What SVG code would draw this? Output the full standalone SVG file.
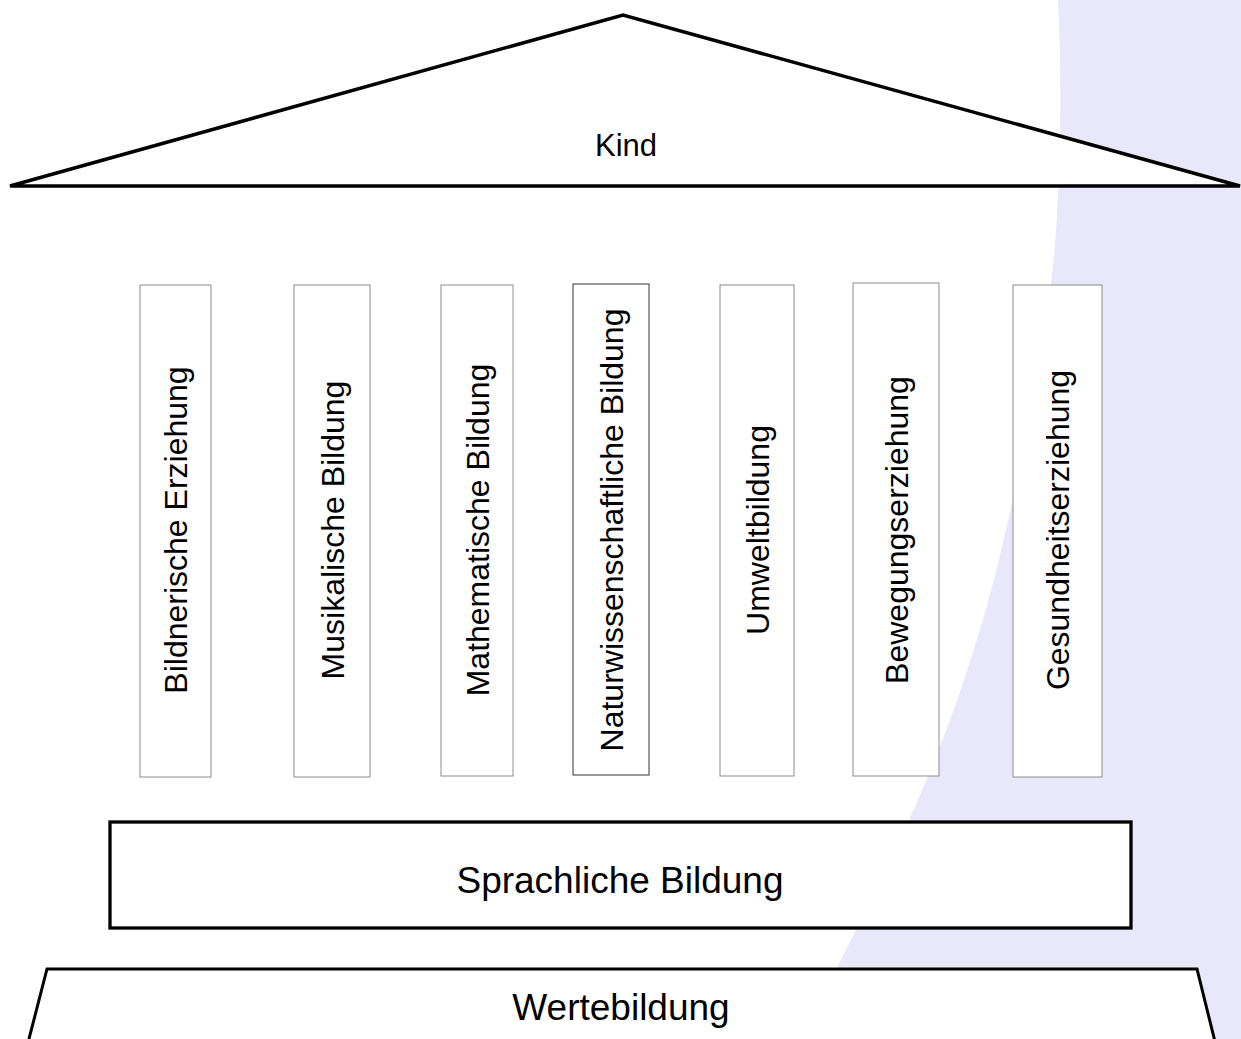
<svg xmlns="http://www.w3.org/2000/svg" width="1241" height="1039" viewBox="0 0 1241 1039">
<style>
  text { font-family: "Liberation Sans", Arial, sans-serif; fill: #000; text-anchor: middle; }
  .roof, .base, .found { fill: #fff; stroke: #000; stroke-width: 3; stroke-linejoin: miter; }
  .roof { stroke-width: 3.5; }
  .base { stroke-width: 3.3; }
  .pillar { fill: #fff; stroke: #8c8c8c; stroke-width: 1; }
  .pillar.dark { stroke: #333; }
  .pt { font-size: 32px; }
  .big { font-size: 37px; }
</style>
<rect x="0" y="0" width="1241" height="1039" fill="#fff"/>
<path id="backdrop" d="M1058,0 C1063,100 1060,220 1050,290 C1040,380 1020,470 1000,555 C975,660 935,770 890,860 C860,925 825,990 800,1039 L1241,1039 L1241,0 Z" fill="#E8E8FA"/>
<g id="connectors"/>
<g id="kind">
  <polygon class="roof" points="10,186 623,15 1240,186"/>
  <text x="626" y="156" style="font-size:31px">Kind</text>
</g>
<g id="bildnerische-erziehung">
  <rect class="pillar" x="140" y="285" width="71" height="492"/>
  <text class="pt" transform="translate(187,530) rotate(-90)">Bildnerische Erziehung</text>
</g>
<g id="musikalische-bildung">
  <rect class="pillar" x="294" y="285" width="76" height="492"/>
  <text class="pt" transform="translate(343.5,530) rotate(-90)">Musikalische Bildung</text>
</g>
<g id="mathematische-bildung">
  <rect class="pillar" x="441" y="285" width="72" height="491"/>
  <text class="pt" transform="translate(488.5,530) rotate(-90)">Mathematische Bildung</text>
</g>
<g id="naturwissenschaftliche-bildung">
  <rect class="pillar dark" x="573" y="284" width="76" height="491"/>
  <text class="pt" transform="translate(622.5,530) rotate(-90)">Naturwissenschaftliche Bildung</text>
</g>
<g id="umweltbildung">
  <rect class="pillar" x="720" y="285" width="74" height="491"/>
  <text class="pt" transform="translate(768.5,530) rotate(-90)">Umweltbildung</text>
</g>
<g id="bewegungserziehung">
  <rect class="pillar" x="853" y="283" width="86" height="493"/>
  <text class="pt" transform="translate(907.5,530) rotate(-90)">Bewegungserziehung</text>
</g>
<g id="gesundheitserziehung">
  <rect class="pillar" x="1013" y="285" width="89" height="492"/>
  <text class="pt" transform="translate(1069,530) rotate(-90)">Gesundheitserziehung</text>
</g>
<g id="sprachliche-bildung">
  <rect class="base" x="110" y="822" width="1021" height="106"/>
  <text class="big" x="620" y="893">Sprachliche Bildung</text>
</g>
<g id="wertebildung">
  <path class="found" d="M22,1066 L47,969 L1197,969 L1221,1066"/>
  <text class="big" x="621" y="1020">Wertebildung</text>
</g>
</svg>
